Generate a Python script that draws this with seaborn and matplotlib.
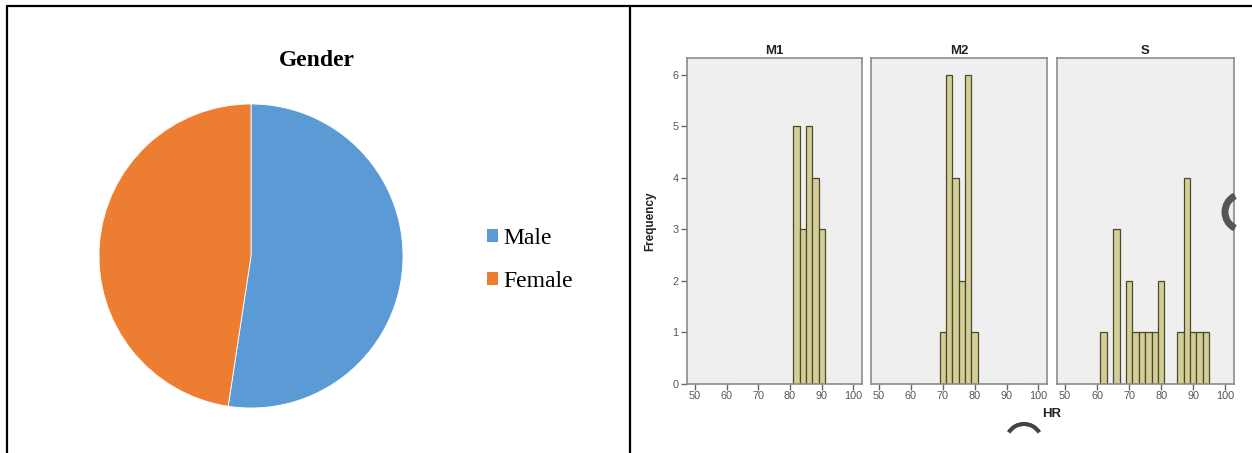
import numpy as np
import pandas as pd
import seaborn as sns
import matplotlib.pyplot as plt
from matplotlib.patches import Patch, Arc
from matplotlib.lines import Line2D

sns.set_theme(style='white')
plt.rcParams['font.family'] = ['Liberation Sans', 'DejaVu Sans']

# pie data
gender = ['Male', 'Female']
gender_pct = [52.4, 47.6]
gender_colors = ['#5B9BD5', '#ED7D31']

# histogram data (bin centre, frequency) per group
groups = ['M1', 'M2', 'S']
m1_hr = [82, 84, 86, 88, 90]
m1_freq = [5, 3, 5, 4, 3]
m2_hr = [70, 72, 74, 76, 78, 80]
m2_freq = [1, 6, 4, 2, 6, 1]
s_hr = [62, 66, 70, 72, 74, 76, 78, 80, 86, 88, 90, 92, 94]
s_freq = [1, 3, 2, 1, 1, 1, 1, 2, 1, 4, 1, 1, 1]
x_ticks = [50, 60, 70, 80, 90, 100]
y_ticks = [0, 1, 2, 3, 4, 5, 6]

df = pd.concat([
    pd.DataFrame({'group': 'M1', 'HR': m1_hr, 'Frequency': m1_freq}),
    pd.DataFrame({'group': 'M2', 'HR': m2_hr, 'Frequency': m2_freq}),
    pd.DataFrame({'group': 'S', 'HR': s_hr, 'Frequency': s_freq}),
])

W, H = 1252, 453
fig = plt.figure(figsize=(W / 100, H / 100), dpi=100)
fig.patch.set_facecolor('white')

def box(x0, y0, x1, y1):
    # pixel box (top-left origin) -> figure fraction rect
    return [x0 / W, 1 - y1 / H, (x1 - x0) / W, (y1 - y0) / H]

# ---- pie
axp = fig.add_axes(box(99, 104, 403, 408))
axp.pie(gender_pct, colors=gender_colors, startangle=90, counterclock=False,
        wedgeprops=dict(linewidth=0.6, edgecolor='white'))
axp.set_xlim(-1, 1)
axp.set_ylim(-1, 1)
axp.set_aspect('auto')
axp.axis('off')
fig.text(317 / W, 1 - 60 / H, 'Gender', ha='center', va='center', color='black',
         family='Liberation Serif', fontweight='bold', fontsize=17)
handles = [Patch(facecolor=c, edgecolor='none') for c in gender_colors]
leg = fig.legend(handles, gender, loc='center left', bbox_to_anchor=(466 / W, 1 - 260 / H),
                 frameon=False, prop={'family': 'Liberation Serif', 'size': 17},
                 handlelength=0.45, handleheight=0.45, handletextpad=0.25, labelspacing=0.95)
for t in leg.get_texts():
    t.set_color('black')

# ---- histograms
panels = [(687, 862), (871, 1047), (1057, 1234)]
for i, (g, (x0, x1)) in enumerate(zip(groups, panels)):
    ax = fig.add_axes(box(x0, 58, x1, 384))
    sns.histplot(data=df[df.group == g], x='HR', weights='Frequency',
                 binwidth=2, binrange=(61, 95), ax=ax,
                 color='#d3cd97', alpha=1, edgecolor='#4a4828', linewidth=0.9)
    ax.set_facecolor('#efefef')
    ax.set_xlim(47.5, 102.7)
    ax.set_ylim(0, 6.33)
    ax.set_xticks(x_ticks)
    ax.set_xlabel('')
    ax.set_ylabel('')
    for sp in ax.spines.values():
        sp.set_color('#8c8c8c')
        sp.set_linewidth(1.2)
    ax.tick_params(axis='x', length=4, width=1, color='#666666', labelsize=7.8,
                   labelcolor='#555555', pad=1, bottom=True, direction='out')
    if i == 0:
        ax.set_yticks(y_ticks)
        ax.tick_params(axis='y', length=4, width=1, color='#666666', labelsize=7.8,
                       labelcolor='#555555', pad=2, left=True, direction='out')
    else:
        ax.set_yticks([])
    ax.set_title(g, fontsize=9.5, fontweight='bold', color='#222222', pad=3)

fig.text(650 / W, 1 - 221 / H, 'Frequency', rotation=90, ha='center', va='center',
         fontsize=8.5, fontweight='bold', color='#222222')
fig.text(1052 / W, 1 - 414 / H, 'HR', ha='center', va='center',
         fontsize=9.5, fontweight='bold', color='#222222')

# overlay artefacts in the screenshot
fig.add_artist(Arc((1243 / W, 1 - 212 / H), 36 / W, 36 / H, theta1=100, theta2=260,
                   transform=fig.transFigure, color='#555555', linewidth=5))
fig.add_artist(Arc((1024 / W, 1 - 442 / H), 36 / W, 36 / H, theta1=60, theta2=120,
                   transform=fig.transFigure, color='#444444', linewidth=3))

# table borders
for xs, ys in [([7, W], [6, 6]), ([7, 7], [6, H]), ([630, 630], [6, H])]:
    fig.add_artist(Line2D([x / W for x in xs], [1 - y / H for y in ys],
                          transform=fig.transFigure, color='black', linewidth=1.6))

fig.savefig('out.png', dpi=100)
